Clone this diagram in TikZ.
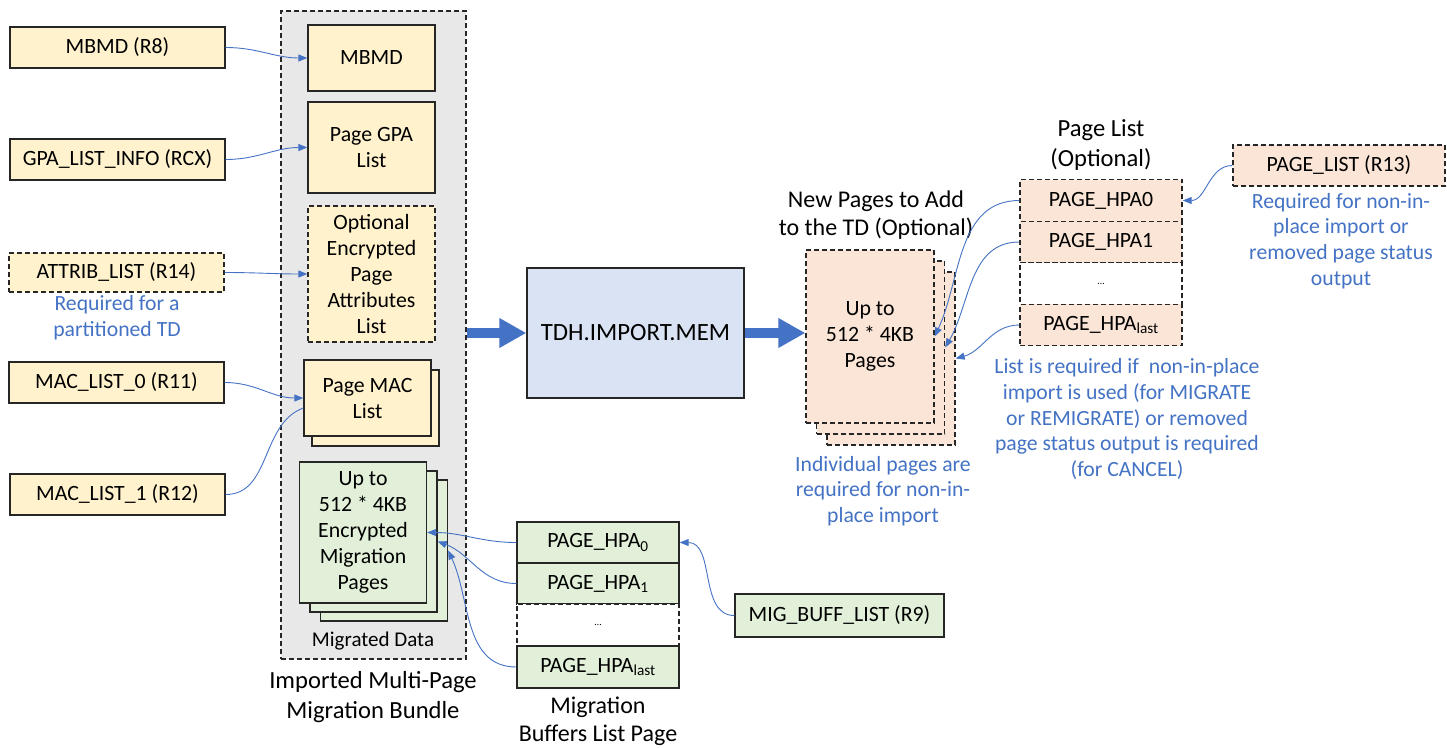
\documentclass[tikz,border=0pt]{standalone}
\usepackage{fontspec}
\setmainfont{Carlito}
\usetikzlibrary{arrows.meta}
\definecolor{yel}{HTML}{FFF2CC}
\definecolor{grn}{HTML}{E2F0D9}
\definecolor{pch}{HTML}{FBE5D6}
\definecolor{bgray}{HTML}{E8E8E8}
\definecolor{lblue}{HTML}{DAE3F3}
\definecolor{ablue}{HTML}{4472C4}
\definecolor{tblue}{HTML}{4472C4}
\newcommand\fsz[2]{\fontsize{#1}{#2}\selectfont}
\begin{document}
\begin{tikzpicture}[x=1pt,y=-1pt,
  box/.style={draw=black!85, line width=1.3pt, align=center, inner sep=0pt, font=\fsz{21.8}{26}},
  sz/.style 2 args={minimum width=#1pt, minimum height=#2pt},
  dsh/.style={dash pattern=on 5pt off 3pt},
  conn/.style={draw=ablue, line width=0.9pt, -{Triangle[length=9pt,width=7pt]}},
  plain/.style={draw=ablue, line width=0.9pt},
  big/.style={draw=ablue, line width=10pt, -{Triangle[length=27pt,width=28pt]}},
  note/.style={text=tblue, align=center, font=\fsz{21.7}{25.7}},
  lbl/.style={align=center, font=\fsz{24.6}{30}}
]
\useasboundingbox (0,0) rectangle (1447,747);

% left inputs
\node[box, sz={215}{41}, fill=yel] (r8) at (117.5,47.5) {MBMD (R8)};
\node[box, sz={215}{41}, fill=yel] (rcx) at (117.5,159.5) {GPA\_LIST\_INFO (RCX)};
\node[box, dsh, sz={215}{39}, fill=yel] (r14) at (116.5,272.5) {ATTRIB\_LIST (R14)};
\node[note] (n14) at (117,318) {Required for a\\partitioned TD};
\node[box, sz={215}{41}, fill=yel] (r11) at (116.5,382.5) {MAC\_LIST\_0 (R11)};
\node[box, sz={215}{41}, fill=yel] (r12) at (117.5,494.5) {MAC\_LIST\_1 (R12)};

% bundle
\node[draw=black!85, line width=1.3pt, dsh, fill=bgray, minimum width=185pt, minimum height=648pt] (bundle) at (373.5,335) {};
\node[box, sz={127}{66}, fill=yel] (mbmd) at (371.5,58) {MBMD};
\node[box, sz={127}{91}, fill=yel] (gpa) at (371.5,147.5) {Page GPA\\List};
\node[box, dsh, sz={127}{136}, fill=yel] (attr) at (371.5,274) {Optional\\Encrypted\\Page\\Attributes\\List};
\node[box, sz={127}{76}, fill=yel] (macb) at (375.5,408) {};
\node[box, sz={127}{76}, fill=yel] (mac) at (367.5,398) {Page MAC\\List};
\node[box, sz={127}{141}, fill=grn] (gb2) at (384,550.5) {};
\node[box, sz={127}{141}, fill=grn] (gb1) at (373.5,541.5) {};
\node[box, sz={127}{141}, fill=grn] (gf) at (363,532.5) {Up to\\512 * 4KB\\Encrypted\\Migration\\Pages};
\node[font=\fsz{21}{25}] (md) at (373,641) {Migrated Data};
\node[lbl] (bl) at (373,697) {Imported Multi-Page\\Migration Bundle};

% TDH
\node[box, sz={217}{130}, fill=lblue, font=\fsz{24.8}{29}] (tdh) at (635.5,333) {TDH.IMPORT.MEM};

% new pages stack
\node[box, dsh, sz={128}{173}, fill=pch] (sb2) at (891,358.5) {};
\node[box, dsh, sz={128}{173}, fill=pch] (sb1) at (880.5,347.5) {};
\node[box, dsh, sz={128}{173}, fill=pch] (sf) at (870,336.5) {Up to\\512 * 4KB\\Pages};
\node[lbl, font=\fsz{24}{28}] (np) at (876,215) {New Pages to Add\\to the TD (Optional)};
\node[note] (nind) at (883,491) {Individual pages are\\required for non-in-\\place import};

% page list
\node[lbl] (plt) at (1101,145.5) {Page List\\(Optional)};
\node[box, dsh, sz={162}{41.5}, fill=pch] (pl0) at (1101,200.5) {PAGE\_HPA0};
\node[box, dsh, sz={162}{41.5}, fill=pch] (pl1) at (1101,242) {PAGE\_HPA1};
\node[box, dsh, sz={162}{41.5}, fill=white, font=\fsz{10}{12}] (pld) at (1101,283.5) {\dots};
\node[box, dsh, sz={162}{41.5}, fill=pch] (pll) at (1101,325) {PAGE\_HPA\textsubscript{last}};
\node[box, dsh, sz={212}{41}, fill=pch] (r13) at (1339,165.5) {PAGE\_LIST (R13)};
\node[note] (n13) at (1341,241) {Required for non-in-\\place import or\\removed page status\\output};
\node[note] (nlist) at (1127,419) {List is required if\ \ non-in-place\\import is used (for MIGRATE\\or REMIGRATE) or removed\\page status output is required\\(for CANCEL)};

% migration buffers list
\node[box, sz={162}{41}, fill=grn] (h0) at (598,542.5) {PAGE\_HPA\textsubscript{0}};
\node[box, sz={162}{41}, fill=grn] (h1) at (598,583.5) {PAGE\_HPA\textsubscript{1}};
\node[box, dsh, sz={162}{42}, fill=white, font=\fsz{10}{12}] (hd) at (598,625) {\dots};
\node[box, sz={162}{42}, fill=grn] (hl) at (598,667) {PAGE\_HPA\textsubscript{last}};
\node[lbl, font=\fsz{24}{28}] (mbl) at (598,721) {Migration\\Buffers List Page};
\node[box, sz={209}{43}, fill=grn] (mig) at (839.5,615.5) {MIG\_BUFF\_LIST (R9)};

% connectors
\draw[conn] (r8.east) to[out=0,in=180] (mbmd.west);
\draw[conn] (rcx.east) to[out=0,in=180] (gpa.west);
\draw[conn] (r14.east) to[out=0,in=180] (attr.west);
\draw[conn] (r11.east) to[out=0,in=180] (mac.west);
\coordinate (mac2) at ([yshift=-10pt]mac.west);
\draw[plain] (r12.east) to[out=0,in=200] (mac2);

\draw[conn] (h0.west) to[out=180,in=0] (gf.east);
\draw[conn] (h1.west) to[out=180,in=-20] (gb1.east);
\draw[conn] (hl.west) to[out=180,in=-65] (gb2.east);
\draw[conn] (mig.west) to[out=180,in=0] (h0.east);

\draw[conn] (pl0.west) to[out=180,in=65] (sf.east);
\draw[conn] (pl1.west) to[out=180,in=60] (sb1.east);
\draw[conn] (pll.west) to[out=180,in=15] (sb2.east);
\draw[conn] (r13.west) to[out=180,in=0] (pl0.east);

\draw[big] (bundle.east |- tdh.west) -- (tdh.west);
\draw[big] (tdh.east) -- (sf.west |- tdh.east);
\end{tikzpicture}
\end{document}
